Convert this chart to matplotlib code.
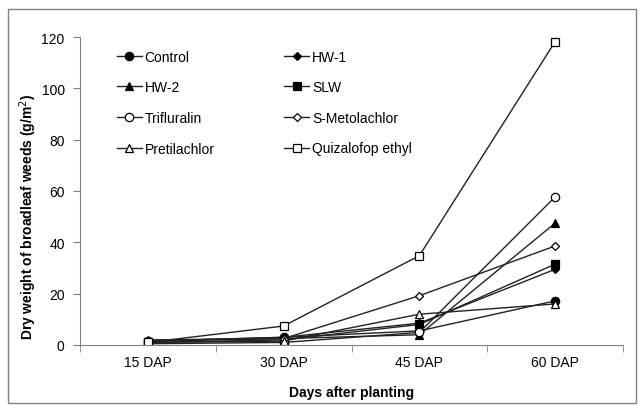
import matplotlib
matplotlib.use("Agg")
import matplotlib.pyplot as plt
from matplotlib.patches import Rectangle
import numpy as np

plt.rcParams['font.family'] = ['Liberation Sans', 'DejaVu Sans']

days = ["15 DAP", "30 DAP", "45 DAP", "60 DAP"]
control = [1.5, 3.0, 5.5, 17.2]
hw1 = [1.5, 3.0, 8.5, 29.5]
hw2 = [2.0, 2.5, 4.0, 47.5]
slw = [1.0, 2.0, 8.0, 31.5]
trifluralin = [0.5, 1.0, 4.9, 57.7]
s_metolachlor = [1.5, 2.5, 19.2, 38.6]
pretilachlor = [1.0, 1.5, 12.0, 16.0]
quizalofop = [1.0, 7.4, 34.8, 118.2]

series = [
    ("Control", control, "o", "black"),
    ("HW-1", hw1, "D", "black"),
    ("HW-2", hw2, "^", "black"),
    ("SLW", slw, "s", "black"),
    ("Trifluralin", trifluralin, "o", "white"),
    ("S-Metolachlor", s_metolachlor, "D", "white"),
    ("Pretilachlor", pretilachlor, "^", "white"),
    ("Quizalofop ethyl", quizalofop, "s", "white"),
]

fig = plt.figure(figsize=(6.43, 4.10), dpi=100)
ax = fig.add_axes([80/643, 1-346/410, (623-80)/643, (346-38)/410])

# outer frame around the figure
fig.patches.append(Rectangle((8/643, 6/410), 628/643, 394/410, transform=fig.transFigure,
                             fill=False, edgecolor="#808080", linewidth=1.0))

x = np.arange(len(days))
handles = {}
for name, vals, mk, fc in series:
    ms = 4.5 if mk == "D" else 6
    h, = ax.plot(x, vals, color="#222222", linewidth=1.0, marker=mk, markersize=ms,
                 markerfacecolor=fc, markeredgecolor="black", markeredgewidth=0.9, label=name)
    handles[name] = h

ax.set_xlim(-0.5, 3.5)
ax.set_ylim(0, 120)
ax.set_yticks(np.arange(0, 121, 20))
ax.set_xticks(x)
ax.set_xticklabels(days)
ax.set_xticks(np.arange(-0.5, 3.6, 1), minor=True)
ax.tick_params(axis="x", which="major", length=0, pad=7, labelsize=10)
ax.tick_params(axis="x", which="minor", length=5, color="#808080")
ax.tick_params(axis="y", length=5, color="#808080", labelsize=10, pad=6)
for s in ["top", "right"]:
    ax.spines[s].set_visible(False)
for s in ["left", "bottom"]:
    ax.spines[s].set_color("#808080")

ax.set_xlabel("Days after planting", fontsize=10, fontweight="bold", labelpad=12)
ax.set_ylabel("Dry weight of broadleaf weeds (g/m$^2$)", fontsize=10, fontweight="bold")
ax.yaxis.set_label_coords(-0.076, 0.42)

order = ["Control", "HW-2", "Trifluralin", "Pretilachlor",
         "HW-1", "SLW", "S-Metolachlor", "Quizalofop ethyl"]
ax.legend([handles[n] for n in order], order, ncol=2, frameon=False, fontsize=10,
          loc="upper left", bbox_to_anchor=(0.045, 1.0), handlelength=1.8,
          handletextpad=0.2, labelspacing=1.2, columnspacing=5.0)

fig.savefig("out.png", dpi=100)
